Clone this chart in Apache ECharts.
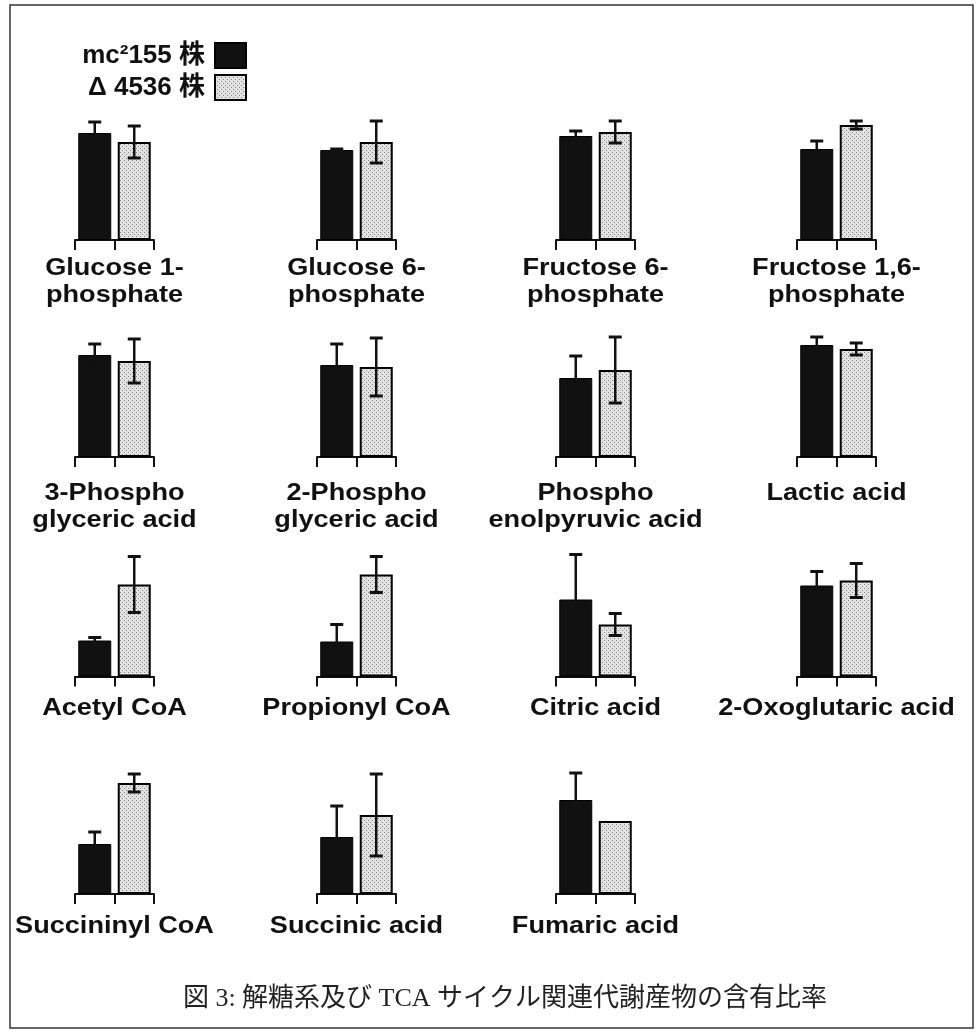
<!DOCTYPE html>
<html><head><meta charset="utf-8">
<script src="https://cdn.jsdelivr.net/npm/echarts@6/dist/echarts.min.js"></script>
<style>html,body{margin:0;padding:0;background:#fff}#c{width:976px;height:1033px}</style>
</head><body><div id="c"></div>
<script>
// ---- data ----
const metabolites = [
  'Glucose 1-\nphosphate', 'Glucose 6-\nphosphate', 'Fructose 6-\nphosphate', 'Fructose 1,6-\nphosphate',
  '3-Phospho\nglyceric acid', '2-Phospho\nglyceric acid', 'Phospho\nenolpyruvic acid', 'Lactic acid',
  'Acetyl CoA', 'Propionyl CoA', 'Citric acid', '2-Oxoglutaric acid',
  'Succininyl CoA', 'Succinic acid', 'Fumaric acid'
];
const strainNames = ['mc²155 株', 'Δ 4536 株'];
const mc155Values = [1.07, 0.90, 1.04, 0.91, 1.02, 0.92, 0.79, 1.12, 0.36, 0.35, 0.77, 0.91, 0.50, 0.57, 0.94];
const mc155Errors = [0.11, 0.01, 0.05, 0.08, 0.11, 0.21, 0.22, 0.08, 0.03, 0.17, 0.45, 0.14, 0.12, 0.31, 0.27];
const d4536Values = [0.98, 0.98, 1.08, 1.15, 0.96, 0.90, 0.87, 1.08, 0.92, 1.02, 0.52, 0.96, 1.11, 0.79, 0.73];
const d4536Errors = [0.16, 0.21, 0.11, 0.04, 0.22, 0.29, 0.33, 0.06, 0.28, 0.18, 0.11, 0.17, 0.09, 0.41, null];
const caption = '図 3: 解糖系及び TCA サイクル関連代謝産物の含有比率';

// ---- layout ----
const colLeft = [75, 317, 556, 797];
const rowBase = [240, 457, 676.5, 894];
const rowLabelTop = [255, 480, 695, 913];
const plotW = 79, plotH = 130, yMax = 1.3;

function makePattern() {
  const c = document.createElement('canvas');
  c.width = 4; c.height = 4;
  const g = c.getContext('2d');
  g.fillStyle = '#e3e3e3'; g.fillRect(0, 0, 4, 4);
  g.fillStyle = '#858585'; g.fillRect(0, 0, 1, 1); g.fillRect(2, 2, 1, 1);
  return c;
}
const grayFill = { image: makePattern(), repeat: 'repeat' };

const chart = echarts.init(document.getElementById('c'), null, { renderer: 'canvas' });
const grid = [], xAxis = [], yAxis = [], series = [], graphic = [];

function errRender(params, api) {
  const x = api.value(0), v = api.value(1), e = api.value(2);
  if (e == null || isNaN(e)) return;
  const t = api.coord([x, v + e]), b = api.coord([x, v - e]);
  const cw = 6.5;
  return { type: 'group', children: [
    { type: 'line', shape: { x1: t[0], y1: t[1], x2: b[0], y2: b[1] }, style: { stroke: '#111', lineWidth: 2.5 } },
    { type: 'line', shape: { x1: t[0] - cw, y1: t[1], x2: t[0] + cw, y2: t[1] }, style: { stroke: '#111', lineWidth: 3 } },
    { type: 'line', shape: { x1: b[0] - cw, y1: b[1], x2: b[0] + cw, y2: b[1] }, style: { stroke: '#111', lineWidth: 3 } }
  ]};
}

metabolites.forEach((name, i) => {
  const r = Math.floor(i / 4), c = i % 4;
  grid.push({ left: colLeft[c], top: rowBase[r] - plotH, width: plotW, height: plotH });
  xAxis.push({ type: 'category', gridIndex: i, data: strainNames, boundaryGap: true,
    axisLine: { lineStyle: { color: '#111', width: 2 } },
    axisTick: { show: true, interval: 0, length: 10, lineStyle: { color: '#111', width: 2 } },
    axisLabel: { show: false }, splitLine: { show: false } });
  yAxis.push({ type: 'value', gridIndex: i, min: 0, max: yMax, show: false, splitLine: { show: false } });
  series.push({ type: 'bar', name: strainNames[0], xAxisIndex: i, yAxisIndex: i, stack: 's' + i, barWidth: 33,
    data: [mc155Values[i], '-'], itemStyle: { color: '#111', borderColor: '#000', borderWidth: 1 }, silent: true });
  series.push({ type: 'bar', name: strainNames[1], xAxisIndex: i, yAxisIndex: i, stack: 's' + i, barWidth: 33,
    data: ['-', d4536Values[i]], itemStyle: { color: grayFill, borderColor: '#000', borderWidth: 2 }, silent: true });
  const ed = [];
  if (mc155Errors[i] != null) ed.push([0, mc155Values[i], mc155Errors[i]]);
  if (d4536Errors[i] != null) ed.push([1, d4536Values[i], d4536Errors[i]]);
  series.push({ type: 'custom', name: 'err', xAxisIndex: i, yAxisIndex: i, z: 5, silent: true,
    renderItem: errRender, data: ed });
  graphic.push({ type: 'text', x: colLeft[c] + plotW / 2, y: rowLabelTop[r], scaleX: 1.13,
    style: { text: name, fontFamily: '"Liberation Sans", Arial, sans-serif', fontWeight: 'bold', fontSize: 24,
      lineHeight: 27, fill: '#111', align: 'center', verticalAlign: 'top' } });
});

graphic.push({ type: 'rect', shape: { x: 10, y: 5, width: 963, height: 1023 },
  style: { fill: 'transparent', stroke: '#333', lineWidth: 1.5 }, silent: true });
graphic.push({ type: 'text', x: 505, y: 999,
  style: { text: caption, fontFamily: '"Liberation Serif", "Noto Sans CJK JP", serif', fontSize: 26,
    fill: '#222', align: 'center', verticalAlign: 'middle' } });

const legendCommon = { orient: 'horizontal', right: 729, align: 'right', itemWidth: 31, itemHeight: 25,
  padding: 0, icon: 'rect', selectedMode: false,
  textStyle: { fontFamily: '"Liberation Sans", Arial, "Noto Sans CJK JP", sans-serif',
    fontWeight: 'bold', fontSize: 26, color: '#111', padding: [0, 5, 0, 0] } };

chart.setOption({
  animation: false,
  backgroundColor: '#fff',
  legend: [
    Object.assign({}, legendCommon, { top: 42, data: [strainNames[0]] }),
    Object.assign({}, legendCommon, { top: 74, data: [strainNames[1]] })
  ],
  grid, xAxis, yAxis, series, graphic
});
</script></body></html>
